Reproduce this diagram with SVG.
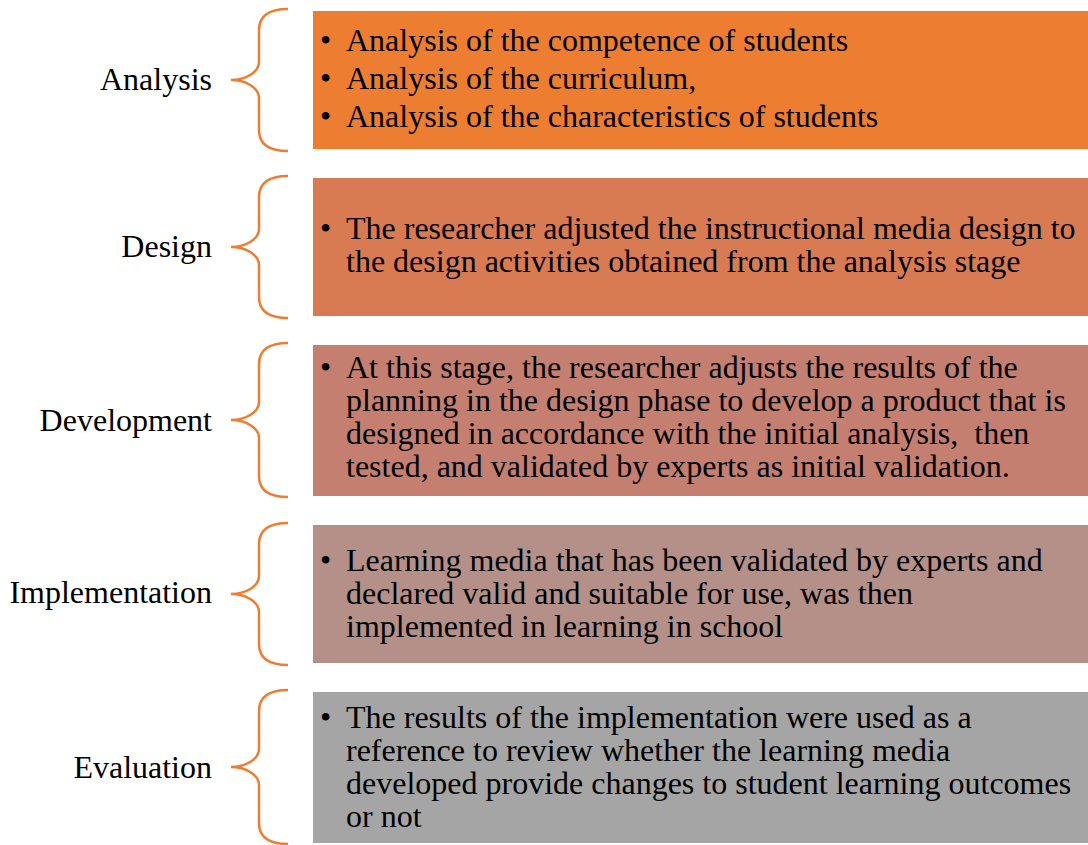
<svg xmlns="http://www.w3.org/2000/svg" width="1088" height="845" viewBox="0 0 1088 845">
  <style>
    text { font-family: "Liberation Serif", "Times New Roman", serif; font-size: 32px; fill: #000000; }
    .label { text-anchor: end; }
    .brace { fill: none; stroke: #ED7D31; stroke-width: 2.5; }
    .box { stroke: #ffffff; stroke-width: 1; }
  </style>
  <rect width="1088" height="845" fill="#ffffff"/>

  <!-- braces linking each stage label to its box -->
  <g id="connectors">
    <path class="brace" d="M288,9 C270,9 259,15 259,30 L259,62 C259,72 246,80 231,80 C246,80 259,88 259,98 L259,130 C259,145 270,151 288,151"/>
    <path class="brace" d="M288,176 C270,176 259,182 259,197 L259,229 C259,239 246,247 231,247 C246,247 259,255 259,265 L259,297 C259,312 270,318 288,318"/>
    <path class="brace" d="M288,343 C270,343 259,349 259,364 L259,402 C259,412 246,420 231,420 C246,420 259,428 259,438 L259,476 C259,491 270,497 288,497"/>
    <path class="brace" d="M288,523 C270,523 259,529 259,544 L259,576 C259,586 246,594 231,594 C246,594 259,602 259,612 L259,644 C259,659 270,665 288,665"/>
    <path class="brace" d="M288,690 C270,690 259,696 259,711 L259,749 C259,759 246,767 231,767 C246,767 259,775 259,785 L259,823 C259,838 270,844 288,844"/>
  </g>

  <g id="analysis">
    <text class="label" x="212" y="90">Analysis</text>
    <rect class="box" x="312.5" y="10.5" width="780" height="139" fill="#ED7D31"/>
    <text x="320" y="51">•</text><text x="346" y="51">Analysis of the competence of students</text>
    <text x="320" y="89">•</text><text x="346" y="89">Analysis of the curriculum,</text>
    <text x="320" y="127">•</text><text x="346" y="127">Analysis of the characteristics of students</text>
  </g>

  <g id="design">
    <text class="label" x="212" y="257">Design</text>
    <rect class="box" x="312.5" y="177.5" width="780" height="139" fill="#D87B53"/>
    <text x="320" y="239">•</text>
    <text x="346" y="239">The researcher adjusted the instructional media design to</text>
    <text x="346" y="272">the design activities obtained from the analysis stage</text>
  </g>

  <g id="development">
    <text class="label" x="212" y="431">Development</text>
    <rect class="box" x="312.5" y="344.5" width="780" height="152" fill="#C47F70"/>
    <text x="320" y="378">•</text>
    <text x="346" y="378">At this stage, the researcher adjusts the results of the</text>
    <text x="346" y="411">planning in the design phase to develop a product that is</text>
    <text x="346" y="444" xml:space="preserve">designed in accordance with the initial analysis,  then</text>
    <text x="346" y="477">tested, and validated by experts as initial validation.</text>
  </g>

  <g id="implementation">
    <text class="label" x="212" y="603">Implementation</text>
    <rect class="box" x="312.5" y="524.5" width="780" height="139" fill="#B49089"/>
    <text x="320" y="571">•</text>
    <text x="346" y="571">Learning media that has been validated by experts and</text>
    <text x="346" y="604">declared valid and suitable for use, was then</text>
    <text x="346" y="637">implemented in learning in school</text>
  </g>

  <g id="evaluation">
    <text class="label" x="212" y="778">Evaluation</text>
    <rect class="box" x="312.5" y="691.5" width="780" height="152" fill="#A5A5A5"/>
    <text x="320" y="728">•</text>
    <text x="346" y="728">The results of the implementation were used as a</text>
    <text x="346" y="761">reference to review whether the learning media</text>
    <text x="346" y="794">developed provide changes to student learning outcomes</text>
    <text x="346" y="827">or not</text>
  </g>
</svg>
